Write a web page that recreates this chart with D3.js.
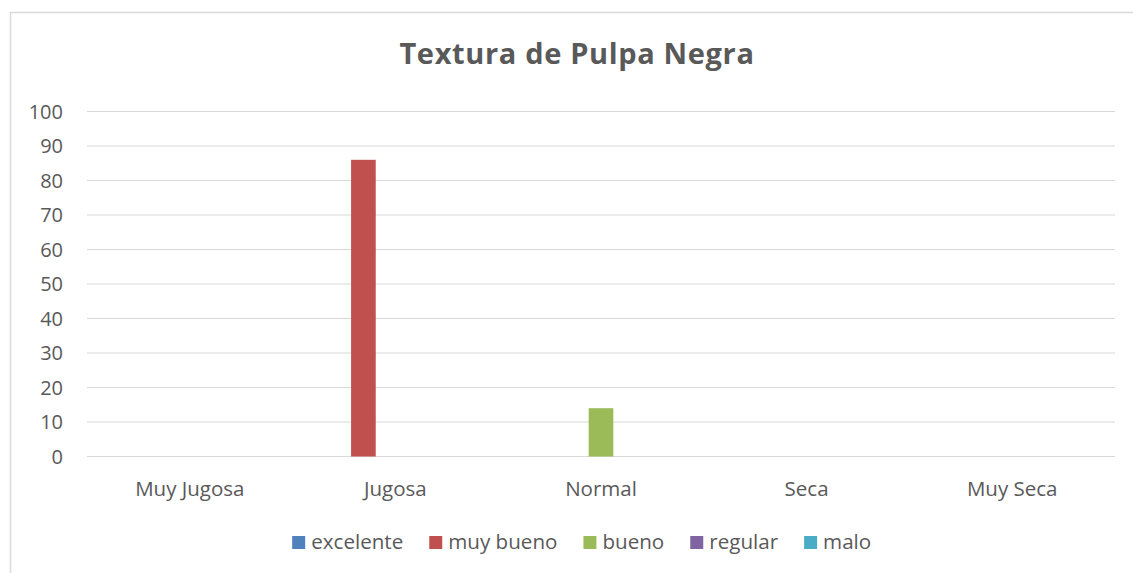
<!DOCTYPE html>
<html>
<head>
<meta charset="utf-8">
<script src="https://cdn.jsdelivr.net/npm/d3@7"></script>
<style>
  html, body { margin: 0; padding: 0; background: #fff; }
  svg { display: block; }
  text { font-family: "Open Sans", sans-serif; fill: #595959; }
</style>
</head>
<body>
<svg id="chart" width="1133" height="573"></svg>
<script>
// Categories on the x axis
const categories = ["Muy Jugosa", "Jugosa", "Normal", "Seca", "Muy Seca"];

// Series (one bar per category each)
const seriesNames = ["excelente", "muy bueno", "bueno", "regular", "malo"];
const seriesColors = ["#4f81bd", "#c0504d", "#9bbb59", "#8064a2", "#4bacc6"];
const excelente = [0, 0, 0, 0, 0];
const muyBueno  = [0, 86, 0, 0, 0];
const bueno     = [0, 0, 14, 0, 0];
const regular   = [0, 0, 0, 0, 0];
const malo      = [0, 0, 0, 0, 0];

// Value axis ticks
const yTicks = [0, 10, 20, 30, 40, 50, 60, 70, 80, 90, 100];

const title = "Textura de Pulpa Negra";

const seriesValues = [excelente, muyBueno, bueno, regular, malo];

const svg = d3.select("#chart");

// Chart area frame
svg.append("rect")
  .attr("x", 10.5).attr("y", 12.5)
  .attr("width", 1200).attr("height", 700)
  .attr("fill", "none")
  .attr("stroke", "#d9d9d9")
  .attr("stroke-width", 1.5);

const plot = { left: 87, right: 1115, top: 111.5, bottom: 456.5 };

const x0 = d3.scaleBand()
  .domain(categories)
  .range([plot.left, plot.right])
  .padding(0);

const groupSpan = x0.bandwidth() * 0.778;
const x1 = d3.scaleBand()
  .domain(seriesNames)
  .range([(x0.bandwidth() - groupSpan) / 2, (x0.bandwidth() + groupSpan) / 2])
  .paddingInner(0.23)
  .paddingOuter(0.115);

const y = d3.scaleLinear()
  .domain([0, 100])
  .range([plot.bottom, plot.top]);

// Horizontal gridlines
svg.append("g")
  .selectAll("line")
  .data(yTicks)
  .join("line")
  .attr("x1", plot.left).attr("x2", plot.right)
  .attr("y1", d => y(d)).attr("y2", d => y(d))
  .attr("stroke", "#d9d9d9")
  .attr("stroke-width", 1);

// Value axis labels
svg.append("g")
  .selectAll("text")
  .data(yTicks)
  .join("text")
  .attr("x", 63)
  .attr("y", d => y(d))
  .attr("dy", "0.36em")
  .attr("text-anchor", "end")
  .style("font-size", "20px")
  .text(d => d);

// Bars
const rows = [];
categories.forEach((c, i) => {
  seriesNames.forEach((s, j) => {
    rows.push({ category: c, series: s, value: seriesValues[j][i], color: seriesColors[j] });
  });
});

svg.append("g")
  .selectAll("rect")
  .data(rows.filter(d => d.value > 0))
  .join("rect")
  .attr("x", d => x0(d.category) + x1(d.series))
  .attr("width", x1.bandwidth())
  .attr("y", d => y(d.value))
  .attr("height", d => y(0) - y(d.value))
  .attr("fill", d => d.color);

// Category labels
svg.append("g")
  .selectAll("text")
  .data(categories)
  .join("text")
  .attr("x", d => x0(d) + x0.bandwidth() / 2)
  .attr("y", 496)
  .attr("text-anchor", "middle")
  .style("font-size", "20.5px")
  .text(d => d);

// Title
svg.append("text")
  .attr("x", 577)
  .attr("y", 64)
  .attr("text-anchor", "middle")
  .style("font-size", "29px")
  .style("font-weight", "bold")
  .style("letter-spacing", "0.65px")
  .text(title);

// Legend, laid out from measured text widths and centred
const legend = svg.append("g");
const items = legend.selectAll("g")
  .data(seriesNames.map((n, i) => ({ name: n, color: seriesColors[i] })))
  .join("g");
items.append("rect")
  .attr("width", 13).attr("height", 13)
  .attr("y", 536)
  .attr("fill", d => d.color);
items.append("text")
  .attr("x", 19)
  .attr("y", 549)
  .style("font-size", "20.6px")
  .text(d => d.name);

let cursor = 0;
const offsets = [];
items.each(function () {
  const w = d3.select(this).select("text").node().getComputedTextLength();
  offsets.push(cursor);
  cursor += 19 + w + 26;
});
const total = cursor - 26;
const start = 581.7 - total / 2;
items.attr("transform", (d, i) => `translate(${start + offsets[i]},0)`);
</script>
</body>
</html>
